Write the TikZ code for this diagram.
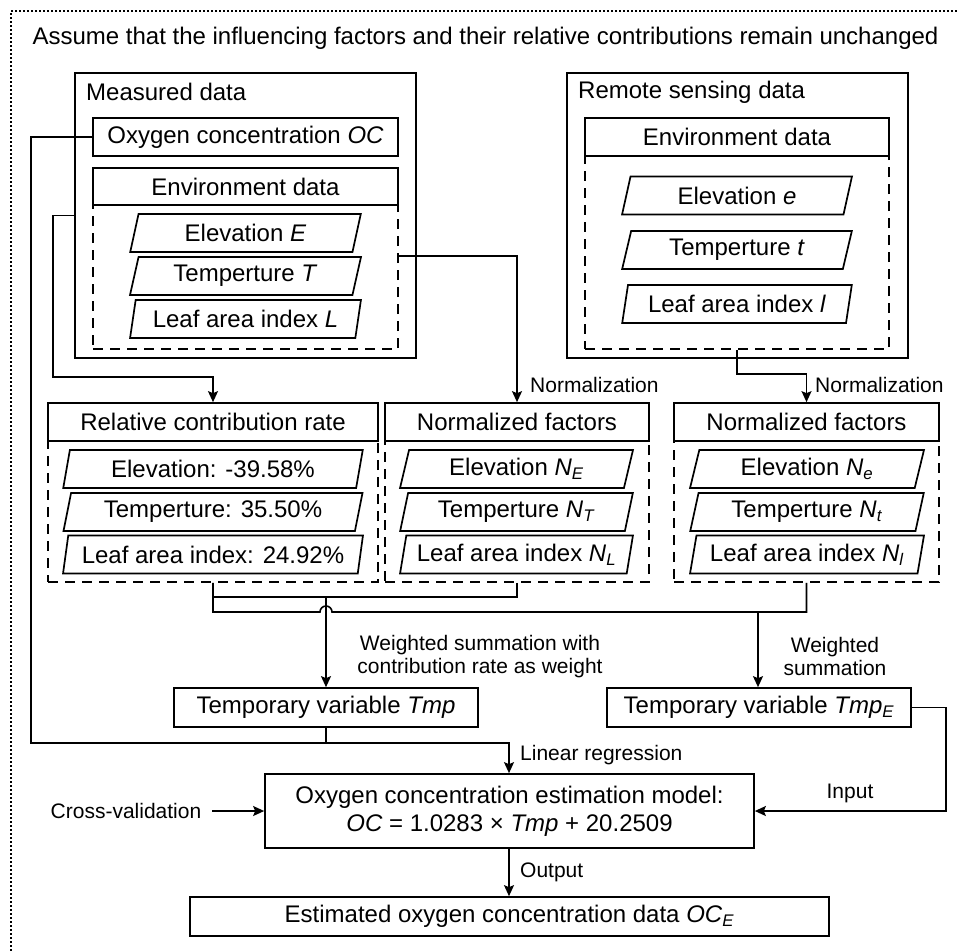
\documentclass[tikz,border=0pt]{standalone}
\usepackage{fontspec}
\setmainfont{Liberation Sans}
\usetikzlibrary{shapes.geometric, arrows.meta, positioning, calc}
\newcommand{\mainfs}{\fontsize{24}{28}\selectfont}
\newcommand{\lblfs}{\fontsize{21}{23.5}\selectfont}
\newcommand{\isub}[2]{\textit{#1}\textsubscript{\textit{#2}}}
\tikzset{
  frame/.style = {draw, line width=1.7pt, minimum width=341pt,
                  minimum height=285pt, inner sep=0pt},
  hdr/.style   = {draw, line width=1.7pt, fill=white, minimum height=38pt,
                  inner sep=0pt, font=\mainfs},
  grp/.style   = {draw, line width=1.7pt, dash pattern=on 10pt off 7pt,
                  inner sep=0pt},
  para/.style  = {trapezium, trapezium left angle=75, trapezium right angle=105,
                  trapezium stretches=true, draw, line width=1.7pt,
                  minimum width=231pt, minimum height=38pt, inner sep=0pt,
                  font=\mainfs},
  lbl/.style   = {font=\lblfs, inner sep=0pt},
  wire/.style  = {line width=1.6pt},
  arr/.style   = {-{Stealth[length=11pt,width=10pt,inset=2pt]}, line width=1.6pt},
}

\begin{document}
\begin{tikzpicture}[x=1pt, y=-1pt]
  \useasboundingbox (0,0) rectangle (957,951);

  % ── Outer dotted frame (open to the right and below) ──────────────
  \draw[line width=1.3pt, dash pattern=on 2pt off 2pt] (957,11) -- (11,11) -- (11,951);
  \node[font=\mainfs, inner sep=0pt] (title) at (485.5,38)
    {Assume that the influencing factors and their relative contributions remain unchanged};

  % ── Measured data ────────────────────────────────────────────────
  \node[frame] (meas) at (245.5,215.5) {};
  \node[font=\mainfs, anchor=west, inner sep=0pt] (measlbl) at (86,92) {Measured data};
  \node[grp, minimum width=305pt, minimum height=144pt] (mgrp) at (245.5,277) {};
  \node[hdr, minimum width=305pt] (moc) at (245.5,137) {Oxygen concentration \textit{OC}};
  \node[hdr, minimum width=305pt, minimum height=37pt] (menv) at (245.5,186.5) {Environment data};
  \node[para] (mE) at (245.5,233) {Elevation \textit{E}};
  \node[para] (mT) at (245.5,276) {Temperture \textit{T}};
  \node[para] (mL) at (245.5,319) {Leaf area index \textit{L}};

  % ── Remote sensing data ──────────────────────────────────────────
  \node[frame] (rem) at (737.5,215.5) {};
  \node[font=\mainfs, anchor=west, inner sep=0pt] (remlbl) at (578,92) {Remote sensing data};
  \node[grp, minimum width=304pt, minimum height=193pt] (rgrp) at (737,252.5) {};
  \node[hdr, minimum width=304pt] (renv) at (737,137) {Environment data};
  \node[para, minimum width=230pt] (re) at (737,195.5) {Elevation \textit{e}};
  \node[para, minimum width=230pt] (rt) at (737,250) {Temperture \textit{t}};
  \node[para, minimum width=230pt] (rl) at (737,304) {Leaf area index \textit{l}};

  % ── Relative contribution rate ───────────────────────────────────
  \node[grp, minimum width=330pt, minimum height=141pt] (cgrp) at (213,511.5) {};
  \node[hdr, minimum width=330pt] (chdr) at (213,422) {Relative contribution rate};
  \node[para, minimum width=300pt] (cE) at (213,469) {Elevation: -39.58\%};
  \node[para, minimum width=300pt] (cT) at (213,512) {Temperture: 35.50\%};
  \node[para, minimum width=300pt] (cL) at (213,554.5) {Leaf area index: 24.92\%};

  % ── Normalized factors (measured) ────────────────────────────────
  \node[grp, minimum width=264pt, minimum height=141pt] (nmgrp) at (517,511.5) {};
  \node[hdr, minimum width=264pt] (nmhdr) at (517,422) {Normalized factors};
  \node[para, minimum width=233pt] (nmE) at (516.5,469) {Elevation \isub{N}{E}};
  \node[para, minimum width=233pt] (nmT) at (516.5,512) {Temperture \isub{N}{T}};
  \node[para, minimum width=233pt] (nmL) at (516.5,554.5) {Leaf area index \isub{N}{L}};

  % ── Normalized factors (remote sensing) ──────────────────────────
  \node[grp, minimum width=265pt, minimum height=141pt] (nrgrp) at (806.5,511.5) {};
  \node[hdr, minimum width=265pt] (nrhdr) at (806.5,422) {Normalized factors};
  \node[para, minimum width=234pt] (nre) at (807,469) {Elevation \isub{N}{e}};
  \node[para, minimum width=234pt] (nrt) at (807,512) {Temperture \isub{N}{t}};
  \node[para, minimum width=234pt] (nrl) at (807,554.5) {Leaf area index \isub{N}{l}};

  % ── Temporary variables, model, result ───────────────────────────
  \node[hdr, minimum width=304pt, minimum height=39pt] (tmp) at (326,707.5)
    {Temporary variable \textit{Tmp}};
  \node[hdr, minimum width=304pt, minimum height=39pt] (tmpE) at (759,707.5)
    {Temporary variable \isub{Tmp}{E}};
  \node[hdr, minimum width=489pt, minimum height=74pt, align=center] (model) at (509.5,811)
    {Oxygen concentration estimation model:\\ \textit{OC} = 1.0283 × \textit{Tmp} + 20.2509};
  \node[hdr, minimum width=639pt, minimum height=39pt] (est) at (509.5,916.5)
    {Estimated oxygen concentration data \isub{OC}{E}};
  \node[lbl] (cv) at (126,811) {Cross-validation};

  % ── Junction points ──────────────────────────────────────────────
  \coordinate (ocbend) at (31,743);
  \coordinate (jreg)   at (509,743);
  \coordinate (cbend)  at (53,377);
  \coordinate (jA)     at (326,597);
  \coordinate (jB)     at (758,612);

  % ── Connectors ───────────────────────────────────────────────────
  \draw[arr] (moc.west) -| (ocbend) -- (jreg) -- (jreg |- model.north);
  \draw[wire] (tmp.south) -- (tmp.south |- jreg);
  \node[lbl, anchor=west] (lreg) at (520,755) {Linear regression};

  \draw[arr] (meas.west) -| (cbend) -- (cbend -| chdr.north) -- (chdr.north);

  \draw[arr] (mgrp.east |- mT.north) -| (nmhdr.north);
  \node[lbl, anchor=west] (norm1) at (530,385) {Normalization};

  \draw[arr] (rgrp.south) -- ++(0,24) -| (nrhdr.north);
  \node[lbl, anchor=west] (norm2) at (815,385) {Normalization};

  % summation with contribution rate as weight
  \draw[wire] (nmgrp.south) -- (nmgrp.south |- jA) -- (cgrp.south |- jA);
  \draw[arr] (jA) -- (tmp.north);
  \node[lbl, align=center] (wsum) at (480,656.5)
    {Weighted summation with\\contribution rate as weight};

  % summation for the remote sensing factors (jumps over jA line)
  \draw[wire] (cgrp.south) -- (cgrp.south |- jB)
    -- ([xshift=-6pt]jA |- jB) arc[start angle=180, end angle=0, radius=6pt]
    -- (nrgrp.south |- jB) -- (nrgrp.south);
  \draw[arr] (jB) -- (jB |- tmpE.north);
  \node[lbl, align=center] (wsumE) at (835,656.5) {Weighted\\summation};

  \draw[arr] (tmpE.east) -- ++(34,0) |- (model.east);
  \node[lbl] (inp) at (850,793) {Input};

  \draw[arr] ([xshift=11pt]cv.east) -- (model.west);

  \draw[arr] (model.south -| jreg) -- (est.north -| jreg);
  \node[lbl, anchor=west] (outp) at (520,872) {Output};

\end{tikzpicture}
\end{document}
